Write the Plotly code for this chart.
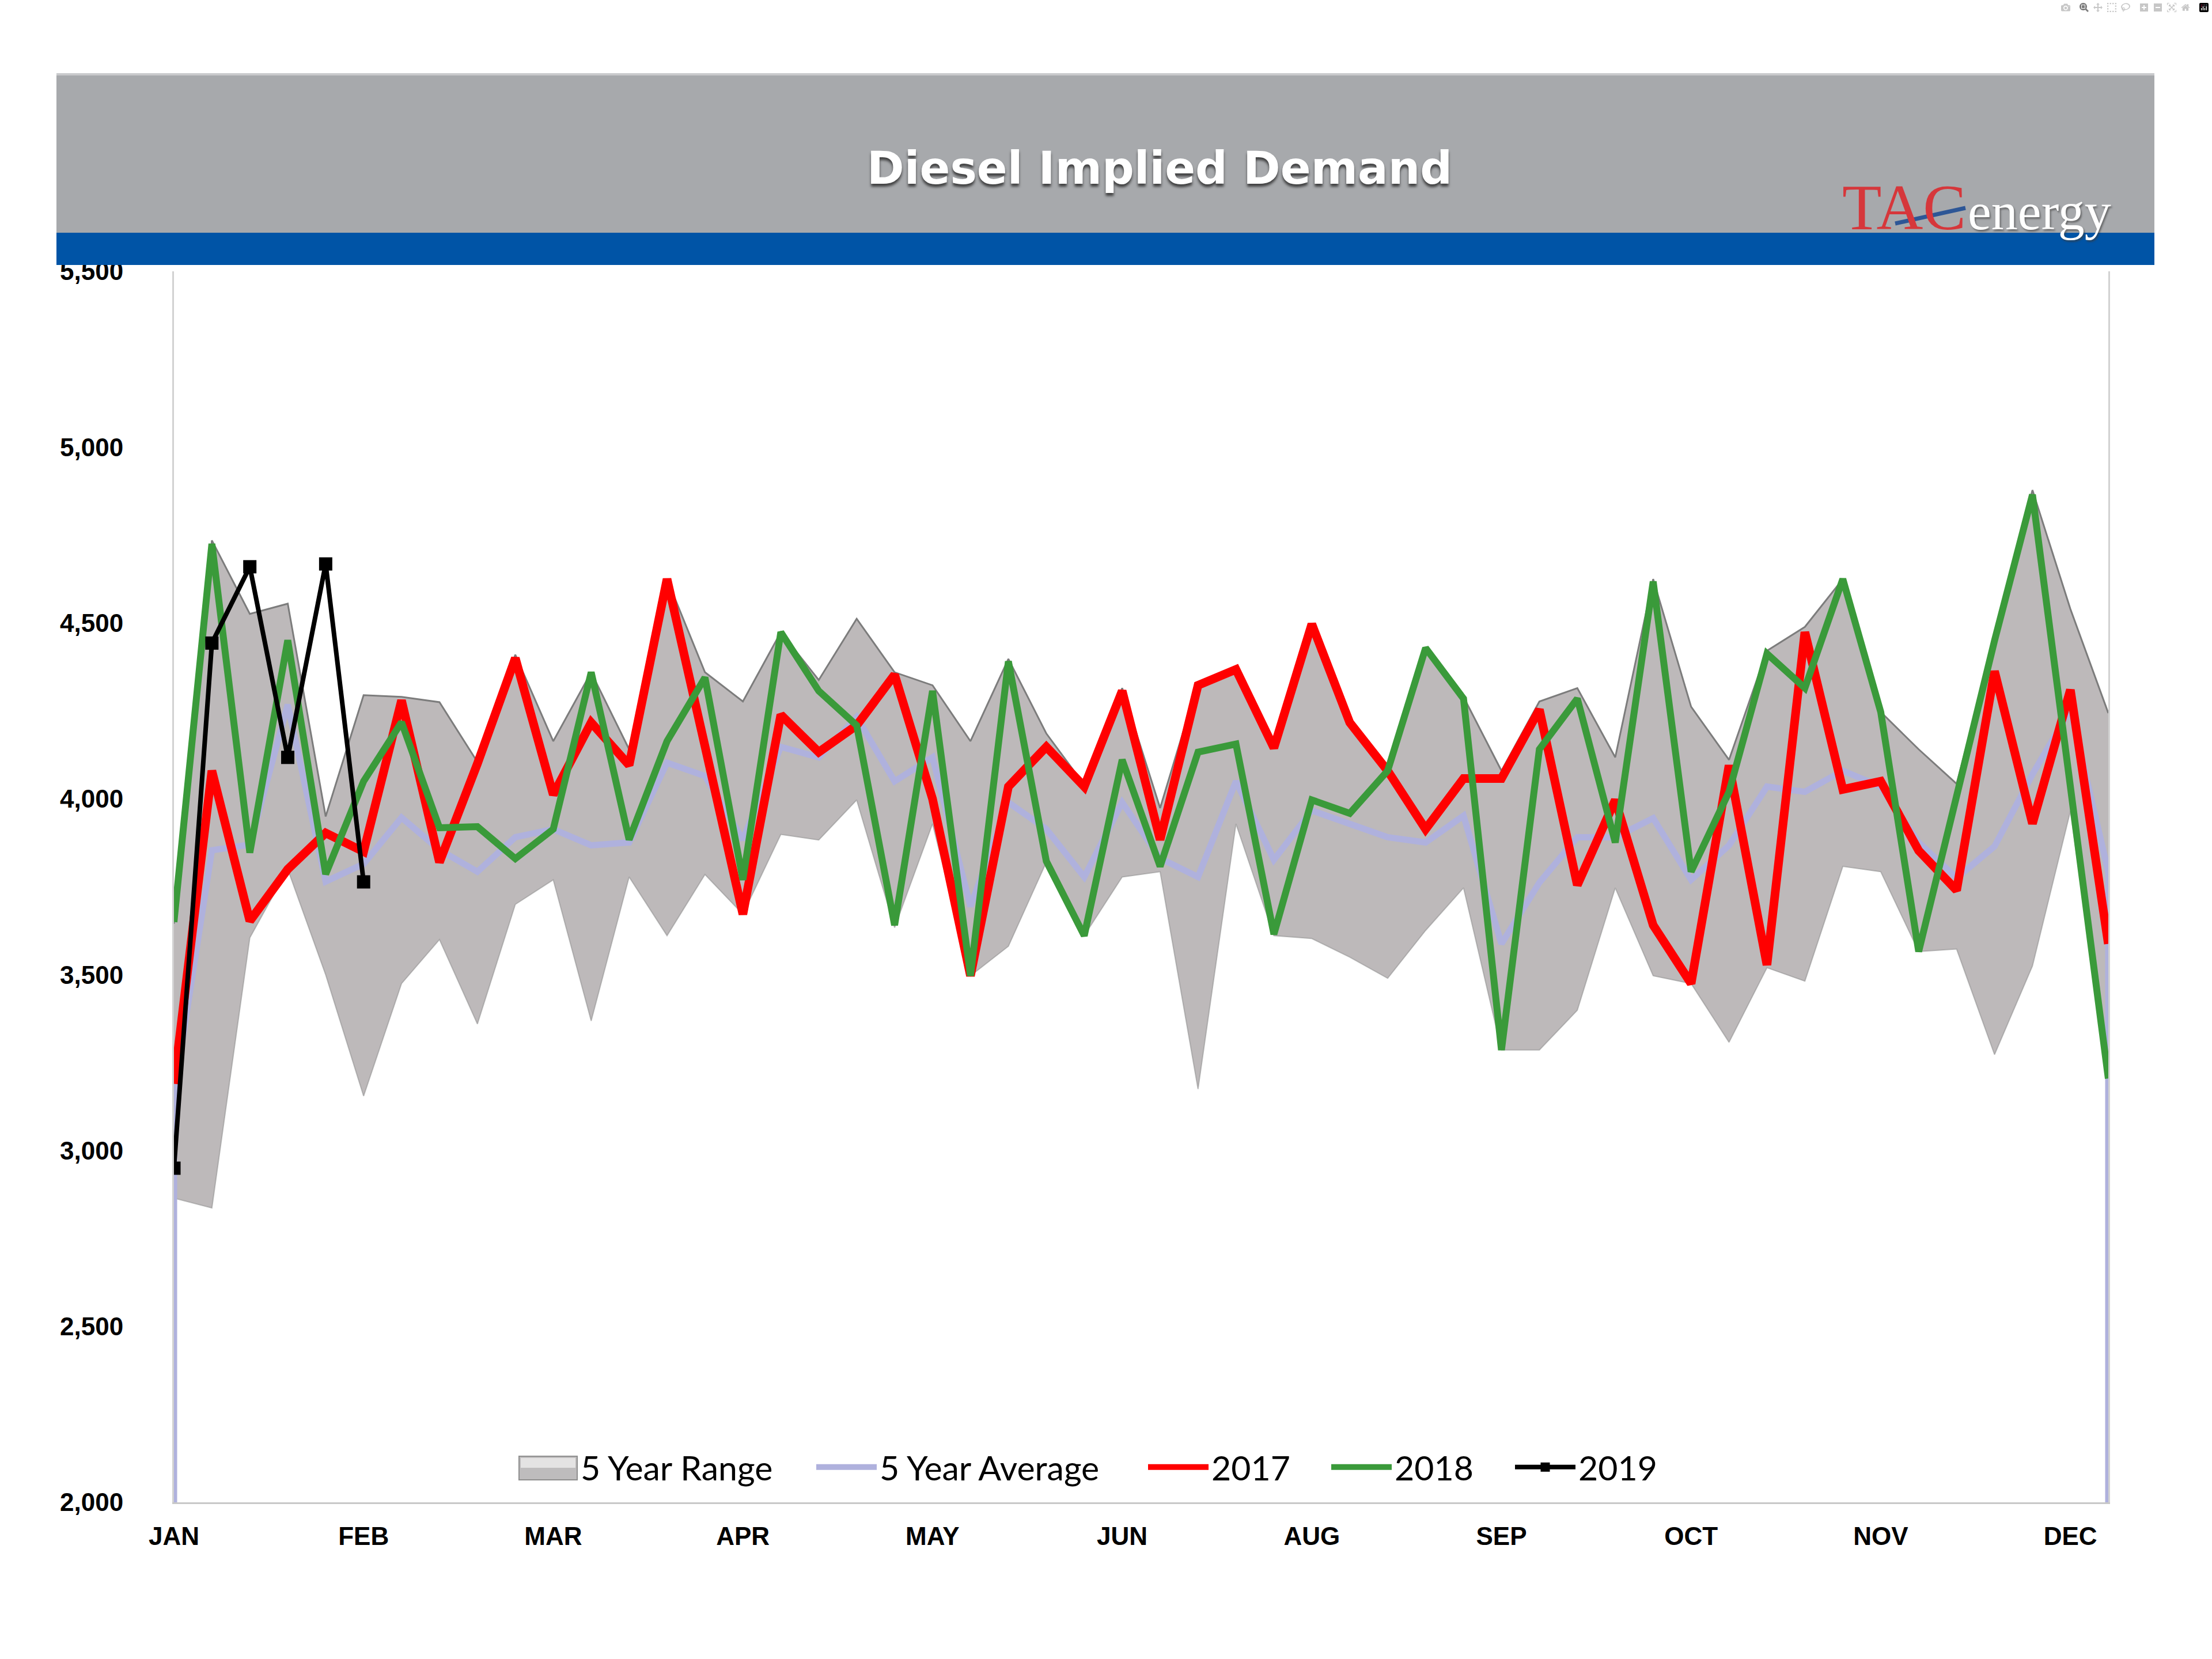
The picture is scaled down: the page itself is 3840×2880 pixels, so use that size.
import plotly.graph_objects as go

# ---------------- data (thousand b/d, weekly) ----------------
month_labels = ["JAN", "FEB", "MAR", "APR", "MAY", "JUN", "AUG", "SEP", "OCT", "NOV", "DEC"]
month_tick_weeks = [0, 5, 10, 15, 20, 25, 30, 35, 40, 45, 50]

range_high = [3645, 4735, 4526, 4555, 3950, 4295, 4290, 4275, 4105, 4410,
              4164, 4360, 4141, 4625, 4360, 4277, 4474, 4338, 4512, 4360,
              4323, 4164, 4398, 4186, 4040, 4315, 3974, 4330, 4376, 4156,
              4497, 4232, 4085, 4429, 4290, 4080, 4277, 4315, 4118, 4625,
              4262, 4111, 4421, 4489, 4625, 4247, 4141, 4043, 4455, 4878,
              4540, 4244]
range_low = [2865, 2837, 3605, 3800, 3500, 3155, 3475, 3600, 3360, 3700,
             3770, 3369, 3778, 3611, 3785, 3672, 3899, 3883, 3997, 3634,
             3929, 3497, 3581, 3820, 3611, 3778, 3793, 3175, 3929, 3611,
             3603, 3550, 3490, 3626, 3747, 3286, 3286, 3399, 3747, 3497,
             3475, 3308, 3520, 3482, 3808, 3793, 3566, 3573, 3273, 3525,
             3965, 3205]
avg_5yr = [3160, 3854, 3870, 4268, 3765, 3815, 3947, 3855, 3793, 3891,
           3914, 3868, 3876, 4103, 4065, 3884, 4148, 4118, 4232, 4050,
           4118, 3694, 3990, 3914, 3778, 3990, 3831, 3778, 4050, 3827,
           3967, 3929, 3891, 3876, 3952, 3588, 3762, 3891, 3891, 3945,
           3770, 3868, 4035, 4020, 4080, 4035, 3876, 3775, 3865, 4070,
           4255, 3792]
y2017 = [3190, 4080, 3653, 3800, 3903, 3850, 4280, 3820, 4100, 4400,
         4012, 4217, 4096, 4625, 4150, 3672, 4239, 4133, 4209, 4353,
         4000, 3497, 4035, 4148, 4035, 4307, 3884, 4323, 4368, 4145,
         4497, 4217, 4080, 3914, 4058, 4058, 4254, 3755, 3997, 3641,
         3475, 4095, 3528, 4474, 4027, 4050, 3853, 3740, 4363, 3930,
         4310, 3588]
y2018 = [3650, 4725, 3847, 4451, 3786, 4050, 4218, 3918, 3921, 3830,
         3914, 4360, 3884, 4164, 4345, 3770, 4474, 4307, 4209, 3641,
         4307, 3497, 4391, 3823, 3611, 4111, 3808, 4133, 4156, 3615,
         3997, 3959, 4080, 4429, 4285, 3286, 4141, 4285, 3876, 4618,
         3793, 4020, 4413, 4315, 4625, 4247, 3566, 4010, 4450, 4865,
         4025, 3205]
y2019 = [2950, 4443, 4660, 4118, 4668, 3764]

y_min, y_max, y_step = 2000, 5500, 500

# ---------------- geometry helpers (pixels -> paper) ----------------
W, H = 3840, 2880
L, R, T, B = 302, 3660, 471, 2608


def fx(p):
    return (p - L) / (R - L)


def fy(p):
    return (B - p) / (B - T)


weeks = list(range(len(range_high)))
weeks19 = weeks[:len(y2019)]

RANGE_FILL = "#BDB9BA"

fig = go.Figure()

# 5 year range (lower edge, then filled upper)
fig.add_trace(go.Scatter(x=weeks, y=range_low, mode="lines",
                         line=dict(color="rgba(140,140,140,0.55)", width=2),
                         showlegend=False, hoverinfo="skip"))
fig.add_trace(go.Scatter(x=weeks, y=range_high, mode="lines", fill="tonexty",
                         fillcolor=RANGE_FILL,
                         line=dict(color="#7C7C7C", width=3),
                         name="5 Year Range", showlegend=False))
# legend entry for the range (swatch drawn as a box below)
fig.add_trace(go.Scatter(x=[None], y=[None], mode="lines",
                         line=dict(color="rgba(0,0,0,0)", width=2),
                         name="5 Year Range", legend="legend"))

# 5 year average (area outline style, with drops to the axis at both ends)
avg_x = [weeks[0]] + weeks + [weeks[-1]]
avg_y = [y_min] + avg_5yr + [y_min]
fig.add_trace(go.Scatter(x=avg_x, y=avg_y, mode="lines",
                         line=dict(color="#AFB1DD", width=11),
                         name="5 Year Average", legend="legend2"))

fig.add_trace(go.Scatter(x=weeks, y=y2017, mode="lines",
                         line=dict(color="#FF0000", width=15), name="2017",
                         legend="legend3"))
fig.add_trace(go.Scatter(x=weeks, y=y2018, mode="lines",
                         line=dict(color="#3A9A3A", width=12), name="2018",
                         legend="legend4"))
fig.add_trace(go.Scatter(x=weeks19, y=y2019, mode="lines+markers",
                         line=dict(color="#000000", width=8),
                         marker=dict(symbol="square", size=23, color="#000000"),
                         name="2019", legend="legend5"))

shapes = [
    # header band
    dict(type="rect", xref="paper", yref="paper",
         x0=fx(98), x1=fx(3740), y0=fy(404), y1=fy(127),
         fillcolor="#A7A9AC", line=dict(width=0), layer="above"),
    dict(type="rect", xref="paper", yref="paper",
         x0=fx(98), x1=fx(3740), y0=fy(131), y1=fy(127),
         fillcolor="#C9CACC", line=dict(width=0), layer="above"),
    # blue stripe
    dict(type="rect", xref="paper", yref="paper",
         x0=fx(98), x1=fx(3740), y0=fy(460), y1=fy(404),
         fillcolor="#0054A6", line=dict(width=0), layer="above"),
    # logo swoosh
    dict(type="line", xref="paper", yref="paper",
         x0=fx(3290), y0=fy(388), x1=fx(3412), y1=fy(361),
         line=dict(color="#2D5696", width=7), layer="above"),
    # legend swatch for the 5 year range (gradient-like box)
    dict(type="rect", xref="paper", yref="paper",
         x0=fx(901), x1=fx(1002), y0=fy(2569), y1=fy(2528),
         fillcolor="#BEBCBD", line=dict(color="#8E8E8E", width=2), layer="above"),
    dict(type="rect", xref="paper", yref="paper",
         x0=fx(904), x1=fx(999), y0=fy(2548), y1=fy(2531),
         fillcolor="#E4E3E3", line=dict(width=0), layer="above"),
]

annotations = [
    dict(text="Diesel Implied Demand", xref="paper", yref="paper",
         x=fx(2013), y=fy(292), xanchor="center", yanchor="middle",
         showarrow=False,
         font=dict(family="DejaVu Sans", size=78, color="white", weight="bold",
                   shadow="0px 5px 4px rgba(40,40,40,0.8)")),
    dict(text="TAC", xref="paper", yref="paper",
         x=fx(3196), y=fy(360), xanchor="left", yanchor="middle",
         showarrow=False,
         font=dict(family="Liberation Serif", size=112, color="#D6373B")),
    dict(text="energy", xref="paper", yref="paper",
         x=fx(3414), y=fy(367), xanchor="left", yanchor="middle",
         showarrow=False,
         font=dict(family="Liberation Serif", size=92, color="white",
                   shadow="2px 3px 3px rgba(60,60,60,0.6)")),
]

# one single-entry legend per series, placed like the original key
legend_font = dict(family="Lato", size=59, color="black")
legend_starts = [901, 1420, 1996, 2314, 2633]
legend_names = ["legend", "legend2", "legend3", "legend4", "legend5"]
legend_layout = {}
for nm, xs in zip(legend_names, legend_starts):
    legend_layout[nm] = dict(orientation="h", x=fx(xs - 8), xanchor="left",
                             y=fy(2547), yanchor="middle", font=legend_font,
                             bgcolor="rgba(0,0,0,0)", itemwidth=105,
                             borderwidth=0)

fig.update_layout(
    template="none",
    width=W, height=H,
    margin=dict(l=L, r=W - R, t=T, b=H - B, pad=0, autoexpand=False),
    paper_bgcolor="white", plot_bgcolor="white",
    showlegend=True,
    shapes=shapes,
    annotations=annotations,
    xaxis=dict(range=[weeks[0], weeks[-1]], tickmode="array",
               tickvals=month_tick_weeks, ticktext=month_labels,
               showgrid=False, zeroline=False, automargin=False,
               showline=True, linecolor="#C8C8C8", linewidth=3, mirror=False,
               ticks="", ticklabelstandoff=18,
               tickfont=dict(family="Liberation Sans", size=44, color="black",
                             weight="bold")),
    yaxis=dict(range=[y_min, y_max], tickmode="array",
               tickvals=list(range(y_min, y_max + 1, y_step)),
               tickformat=",d",
               showgrid=False, zeroline=False, automargin=False,
               showline=True, linecolor="#D2D2D2", linewidth=3, mirror=True,
               ticks="", ticklabelstandoff=76,
               tickfont=dict(family="Liberation Sans", size=44, color="black",
                             weight="bold")),
    **legend_layout,
)

fig.write_html("out.html",
               post_script="document.body.style.margin='0';document.body.style.padding='0';")
